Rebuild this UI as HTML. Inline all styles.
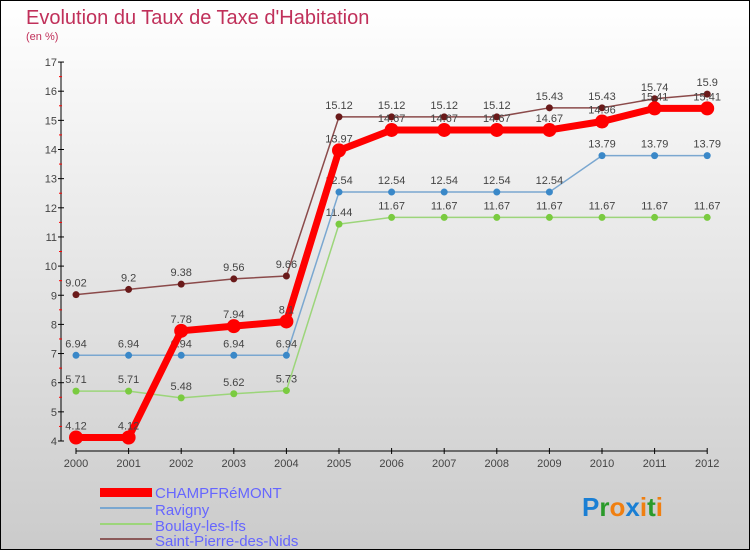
<!DOCTYPE html>
<html><head><meta charset="utf-8"><style>
body{margin:0}
#c{width:750px;height:550px;position:relative;box-sizing:border-box;border:1px solid #000;background:linear-gradient(#fff,#cbcbcb);font-family:"Liberation Sans",sans-serif;overflow:hidden}
</style></head><body>
<div id="c">
<svg id="s" width="750" height="550" style="position:absolute;left:-1px;top:-1px">
<text x="26" y="24" font-size="20" fill="#c0305a">Evolution du Taux de Taxe d'Habitation</text>
<text x="26" y="40" font-size="11" fill="#c0305a">(en %)</text>
<g id="axes"></g><g id="series"></g>
<g font-size="15" fill="#6666ff">
<rect x="100" y="488" width="52" height="9" fill="#f00"/>
<text x="155" y="498">CHAMPFRéMONT</text>
<rect x="100" y="507" width="52" height="2" fill="#7aa7d0"/>
<text x="155" y="515">Ravigny</text>
<rect x="100" y="523" width="52" height="2" fill="#9cd57a"/>
<text x="155" y="531">Boulay-les-Ifs</text>
<rect x="100" y="538" width="52" height="2" fill="#8b5a5a"/>
<text x="155" y="546">Saint-Pierre-des-Nids</text>
</g>
<text x="582" y="516" font-size="26" font-weight="bold"><tspan fill="#1a7fd4">P</tspan><tspan fill="#2a9a2a">r</tspan><tspan fill="#f07f10">o</tspan><tspan fill="#1a7fd4">x</tspan><tspan fill="#f07f10">i</tspan><tspan fill="#2a9a2a">t</tspan><tspan fill="#f07f10">i</tspan></text>
</svg></div>
<script>
const years=[2000,2001,2002,2003,2004,2005,2006,2007,2008,2009,2010,2011,2012];
const yTicks=[4,5,6,7,8,9,10,11,12,13,14,15,16,17];
const champfremont=[4.12,4.12,7.78,7.94,8.1,13.97,14.67,14.67,14.67,14.67,14.96,15.41,15.41];
const ravigny=[6.94,6.94,6.94,6.94,6.94,12.54,12.54,12.54,12.54,12.54,13.79,13.79,13.79];
const boulay=[5.71,5.71,5.48,5.62,5.73,11.44,11.67,11.67,11.67,11.67,11.67,11.67,11.67];
const saintPierre=[9.02,9.2,9.38,9.56,9.66,15.12,15.12,15.12,15.12,15.43,15.43,15.74,15.9];
const NS="http://www.w3.org/2000/svg";
const xS=i=>76+i*52.6;
const yS=v=>441-(v-4)*29.15;
function mk(t,a,p){const e=document.createElementNS(NS,t);for(const k in a)e.setAttribute(k,a[k]);p.appendChild(e);return e;}
const ax=document.getElementById('axes');
let e=mk('line',{x1:61,y1:yS(17),x2:61,y2:yS(4),stroke:'#000'},ax);


e=mk('line',{x1:xS(0),y1:451,x2:xS(12),y2:451,stroke:'#000'},ax);


yTicks.forEach(v=>{
 mk('line',{x1:58,x2:64,y1:yS(v),y2:yS(v),stroke:'#000'},ax);
 if(v<17)mk('line',{x1:59,x2:62,y1:yS(v+0.5),y2:yS(v+0.5),stroke:'#f00'},ax);
 const t=mk('text',{x:57,y:yS(v)+4,'font-size':11,'text-anchor':'end',fill:'#444'},ax);t.textContent=v;
 
 
});
years.forEach((y,i)=>{
 mk('line',{x1:xS(i),x2:xS(i),y1:448,y2:454,stroke:'#000'},ax);
 const t=mk('text',{x:xS(i),y:467,'font-size':11,'text-anchor':'middle',fill:'#444'},ax);t.textContent=y;
 
 
});
const sg=document.getElementById('series');
function draw(vals,color,w,r,name,dot){
 const g=mk('g',{},sg);
 
 
 const l=mk('polyline',{points:vals.map((v,i)=>xS(i)+','+yS(v)).join(' '),fill:'none',stroke:color,'stroke-width':w,'stroke-linejoin':'round'},g);
 
 
 vals.forEach((v,i)=>{
  const c=mk('circle',{cx:xS(i),cy:yS(v),r:r,fill:dot},g);
  
  
  const t=mk('text',{x:xS(i),y:yS(v)-8,'font-size':11,'text-anchor':'middle',fill:'#444'},g);t.textContent=v;
  
  
 });
}
draw(saintPierre,'#8b4a4a',1.5,3.5,'saint-pierre','#6a1a1a');
draw(boulay,'#9cd57a',1.5,3.5,'boulay','#7acb40');
draw(ravigny,'#7aa7d0',1.5,3.5,'ravigny','#3a88c8');
draw(champfremont,'#f00',7,7,'champfremont','#f00');
</script>
</body></html>
